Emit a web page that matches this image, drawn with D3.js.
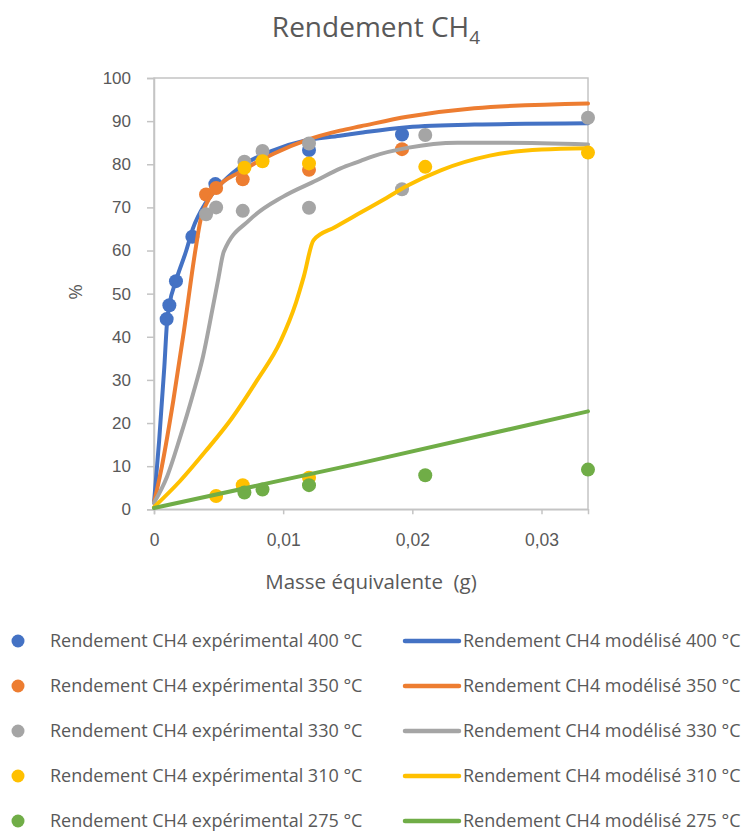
<!DOCTYPE html>
<html>
<head>
<meta charset="utf-8">
<script src="https://cdn.jsdelivr.net/npm/d3@7/dist/d3.min.js"></script>
<style>
  html, body { margin: 0; padding: 0; background: #fff; }
  svg { display: block; font-family: "Open Sans", "Noto Sans", sans-serif; }
  text { fill: #595959; }
</style>
</head>
<body>
<svg id="chart" width="743" height="832"></svg>
<script>
// ---------- data ----------
const temps = ["400", "350", "330", "310", "275"];
const colors = ["#4472C4", "#ED7D31", "#A5A5A5", "#FFC000", "#70AD47"];

const exp400X = [0.00098, 0.00119, 0.0017, 0.00297, 0.00475, 0.012, 0.0192];
const exp400Y = [44.1, 47.3, 52.9, 63.2, 75.4, 83.3, 86.9];
const exp350X = [0.00403, 0.00481, 0.00687, 0.012, 0.0192];
const exp350Y = [73.0, 74.5, 76.5, 78.7, 83.5];
const exp330X = [0.00403, 0.00481, 0.00687, 0.007, 0.0084, 0.012, 0.012, 0.0192, 0.021, 0.0336];
const exp330Y = [68.4, 70.0, 69.2, 80.6, 83.1, 84.8, 69.9, 74.2, 86.8, 90.8];
const exp310X = [0.00481, 0.00687, 0.012, 0.007, 0.0084, 0.012, 0.021, 0.0336];
const exp310Y = [3.1, 5.6, 7.3, 79.2, 80.7, 80.2, 79.4, 82.7];
const exp275X = [0.007, 0.0084, 0.012, 0.021, 0.0336];
const exp275Y = [3.9, 4.6, 5.6, 7.9, 9.2];

const mod400X = [0, 0.0004, 0.0008, 0.001, 0.0012, 0.0017, 0.0025, 0.003, 0.004, 0.0049, 0.0067, 0.0093, 0.0118, 0.0144, 0.016, 0.0196, 0.0248, 0.0336];
const mod400Y = [1.5, 16, 33, 43, 47.5, 53, 60, 65, 71, 74.5, 79.4, 83.3, 85.6, 86.6, 87.3, 88.6, 89.2, 89.5];
const mod350X = [0, 0.0006, 0.0015, 0.0023, 0.0032, 0.0036, 0.004, 0.0048, 0.0067, 0.0093, 0.0118, 0.0144, 0.016, 0.0196, 0.0248, 0.0336];
const mod350Y = [1.5, 9.8, 25.3, 41, 60, 67, 70.5, 74.3, 78.3, 82.5, 85.6, 87.8, 88.8, 91.0, 93.0, 94.1];
const mod330X = [0, 0.001, 0.002, 0.003, 0.0038, 0.0045, 0.005, 0.0054, 0.0074, 0.01, 0.0126, 0.0144, 0.016, 0.017, 0.0196, 0.0235, 0.0273, 0.0336];
const mod330Y = [1.5, 7.5, 16.5, 26.5, 35.5, 46, 53.8, 59.7, 67.1, 72.5, 76.3, 79.0, 80.8, 81.9, 83.8, 85.0, 85.0, 84.6];
const mod310X = [0, 0.002, 0.004, 0.006, 0.008, 0.0098, 0.011, 0.0116, 0.01235, 0.014, 0.016, 0.018, 0.0196, 0.0222, 0.026, 0.03, 0.0336];
const mod310Y = [0.5, 6.5, 13.5, 21, 30, 39, 48, 54, 62.4, 65.4, 68.8, 72.2, 75.0, 78.6, 82.0, 83.4, 83.7];
const mod275X = [0, 0.016, 0.0336];
const mod275Y = [0.3, 10.7, 22.7];

const xTicks = [0, 0.01, 0.02, 0.03];
const xTickLabels = ["0", "0,01", "0,02", "0,03"];
const yTicks = [0, 10, 20, 30, 40, 50, 60, 70, 80, 90, 100];

const expX = [exp400X, exp350X, exp330X, exp310X, exp275X];
const expY = [exp400Y, exp350Y, exp330Y, exp310Y, exp275Y];
const modX = [mod400X, mod350X, mod330X, mod310X, mod275X];
const modY = [mod400Y, mod350Y, mod330Y, mod310Y, mod275Y];

// ---------- layout ----------
const svg = d3.select("#chart");
const L = 154, R = 588, T = 78, B = 509.3;
const x = d3.scaleLinear().domain([0, 0.0336]).range([L, R]);
const y = d3.scaleLinear().domain([0, 100]).range([B, T]);
const axisColor = "#C4C4C4";

// title
const title = svg.append("text").attr("x", 376).attr("y", 37)
  .attr("text-anchor", "middle").style("font-size", "28px");
title.append("tspan").text("Rendement CH");
title.append("tspan").attr("dy", 7).style("font-size", "19px").text("4");

// plot border
svg.append("rect").attr("x", L).attr("y", T).attr("width", R - L).attr("height", B - T)
  .attr("fill", "none").attr("stroke", axisColor).attr("stroke-width", 1.5);

// y axis
const yAxis = d3.axisLeft(y).tickValues(yTicks).tickSize(7).tickPadding(16);
const gy = svg.append("g").attr("transform", `translate(${L},0)`).call(yAxis);
gy.select(".domain").attr("stroke", axisColor).attr("stroke-width", 1.5);
gy.selectAll(".tick line").attr("stroke", axisColor).attr("stroke-width", 1.5);
gy.selectAll(".tick text").style("font-size", "17px").attr("fill", "#595959");

// x axis
const xAxis = d3.axisBottom(x).tickValues(xTicks).tickSize(5).tickPadding(19)
  .tickFormat((d, i) => xTickLabels[i]);
const gx = svg.append("g").attr("transform", `translate(0,${B})`).call(xAxis);
gx.select(".domain").attr("stroke", axisColor).attr("stroke-width", 1.5);
gx.selectAll(".tick line").attr("stroke", axisColor).attr("stroke-width", 1.5);
gx.selectAll(".tick text").style("font-size", "17.5px").attr("fill", "#595959");

// axis titles
svg.append("text").attr("x", 371).attr("y", 589).attr("text-anchor", "middle")
  .style("font-size", "20.5px").style("white-space", "pre").text("Masse équivalente  (g)");
svg.append("text").attr("transform", "translate(82,292) rotate(-90)").attr("text-anchor", "middle")
  .style("font-size", "19px").text("%");

// series
const line = d3.line().x(d => x(d[0])).y(d => y(d[1])).curve(d3.curveMonotoneX);
const plot = svg.append("g");
temps.forEach((t, i) => {
  const pts = expX[i].map((v, j) => [v, expY[i][j]]);
  plot.append("g").selectAll("circle").data(pts).join("circle")
    .attr("cx", d => x(d[0])).attr("cy", d => y(d[1])).attr("r", 7)
    .attr("fill", colors[i]);
  const mpts = modX[i].map((v, j) => [v, modY[i][j]]);
  plot.append("path").datum(mpts).attr("d", line)
    .attr("fill", "none").attr("stroke", colors[i]).attr("stroke-width", 4)
    .attr("stroke-linecap", "round").attr("stroke-linejoin", "round");
});

// legend
const rowY = [641, 686, 731, 776, 821];
temps.forEach((t, i) => {
  svg.append("circle").attr("cx", 18).attr("cy", rowY[i]).attr("r", 6.5).attr("fill", colors[i]);
  svg.append("text").attr("x", 50).attr("y", rowY[i]).attr("dy", "0.35em")
    .style("font-size", "18px").text(`Rendement CH4 expérimental ${t} °C`);
  svg.append("line").attr("x1", 405).attr("x2", 459).attr("y1", rowY[i]).attr("y2", rowY[i])
    .attr("stroke", colors[i]).attr("stroke-width", 4.5).attr("stroke-linecap", "round");
  svg.append("text").attr("x", 463).attr("y", rowY[i]).attr("dy", "0.35em")
    .style("font-size", "18px").text(`Rendement CH4 modélisé ${t} °C`);
});
</script>
</body>
</html>
